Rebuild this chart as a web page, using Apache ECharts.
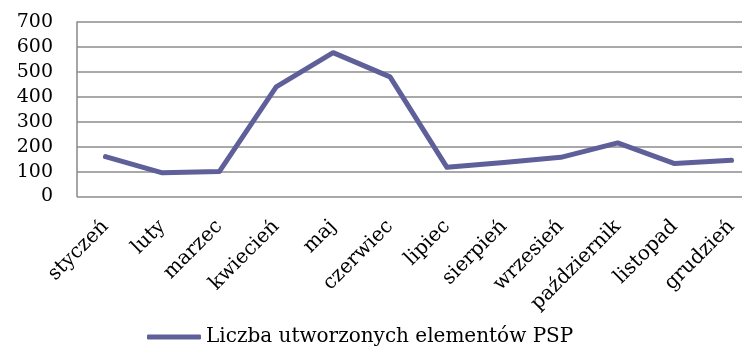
<!DOCTYPE html>
<html>
<head>
<meta charset="utf-8">
<script src="https://cdn.jsdelivr.net/npm/echarts@6/dist/echarts.min.js"></script>
<style>
  html, body { margin: 0; padding: 0; background: #fff; }
  #chart { width: 742px; height: 347px; }
</style>
</head>
<body>
<div id="chart"></div>
<script>
// Months of the year
const months = ['styczeń', 'luty', 'marzec', 'kwiecień', 'maj', 'czerwiec',
  'lipiec', 'sierpień', 'wrzesień', 'październik', 'listopad', 'grudzień'];
// Number of PSP elements created each month
const createdElements = [160, 95, 100, 440, 577, 480, 117, 136, 157, 215, 132, 145];
const seriesName = 'Liczba utworzonych elementów PSP';
const yTicks = [0, 100, 200, 300, 400, 500, 600, 700];

const FONT = 'DejaVu Serif';
const chart = echarts.init(document.getElementById('chart'), null, { renderer: 'canvas' });
chart.setOption({
  animation: false,
  textStyle: { fontFamily: FONT },
  grid: { left: 77, top: 22, right: -18, height: 174.5, containLabel: false, outerBoundsMode: 'none' },
  legend: {
    data: [seriesName],
    left: 142,
    top: 322,
    itemWidth: 54,
    itemHeight: 5,
    itemGap: 6,
    icon: 'roundRect',
    textStyle: { fontFamily: FONT, fontSize: 20, color: '#000', padding: [0, 0, 0, 0] }
  },
  xAxis: {
    type: 'category',
    data: months,
    boundaryGap: true,
    axisLine: { show: false },
    axisTick: { show: false },
    axisLabel: {
      rotate: 45,
      interval: 0,
      margin: 27,
      fontFamily: FONT,
      fontSize: 20,
      color: '#000'
    }
  },
  yAxis: {
    type: 'value',
    min: yTicks[0],
    max: yTicks[yTicks.length - 1],
    interval: 100,
    axisLine: { show: true, lineStyle: { color: '#888', width: 1.5 } },
    axisTick: { show: false },
    splitLine: { lineStyle: { color: '#8c8c8c', width: 1.5 } },
    axisLabel: {
      margin: 24,
      fontFamily: FONT,
      fontSize: 19,
      color: '#000'
    }
  },
  series: [{
    name: seriesName,
    type: 'line',
    data: createdElements,
    showSymbol: false,
    symbol: 'none',
    lineStyle: { color: '#5f5f99', width: 5, cap: 'round', join: 'round' },
    itemStyle: { color: '#5f5f99' }
  }]
});
</script>
</body>
</html>
